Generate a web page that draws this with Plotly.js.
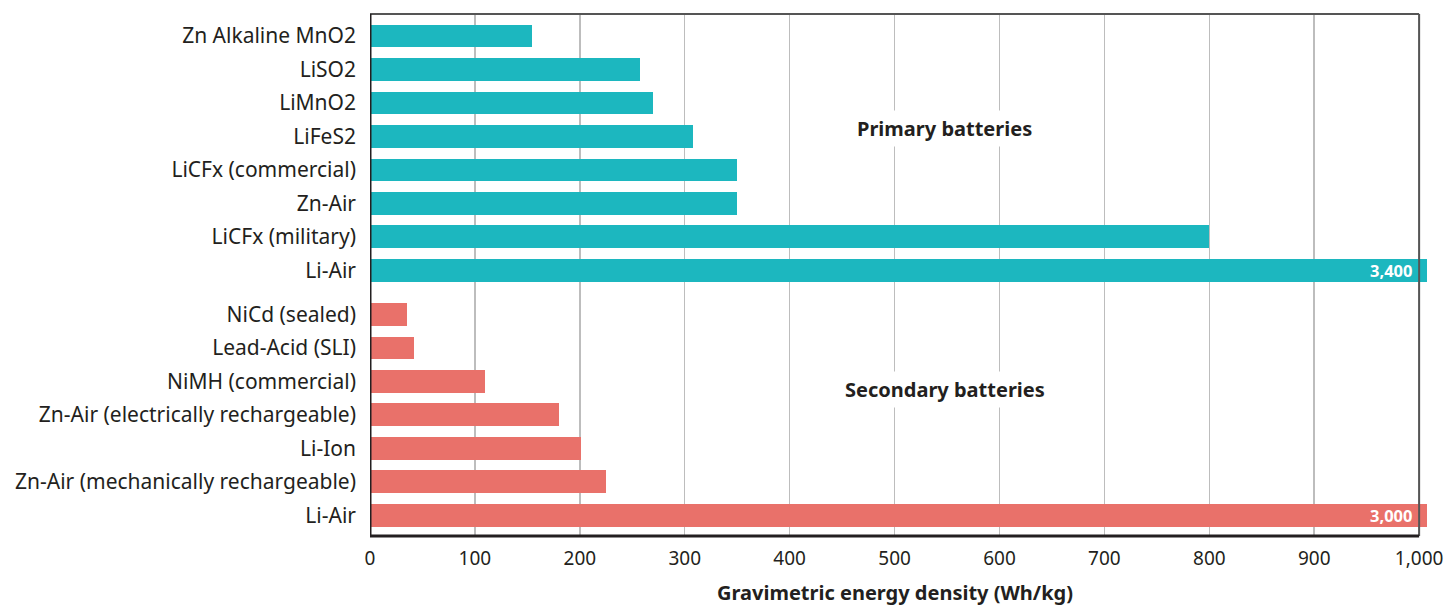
<!DOCTYPE html>
<html>
<head>
<meta charset="utf-8">
<script src="https://cdn.plot.ly/plotly-3.0.1.min.js"></script>
<style>html,body{margin:0;padding:0;background:#fff;}#chart{width:1444px;height:607px;}</style>
</head>
<body>
<div id="chart"></div>
<script>
// ---- data ----
const primaryLabels = ["Zn Alkaline MnO2", "LiSO2", "LiMnO2", "LiFeS2", "LiCFx (commercial)", "Zn-Air", "LiCFx (military)", "Li-Air"];
const primaryValues = [154, 257, 270, 308, 350, 350, 800, 3400];
const secondaryLabels = ["NiCd (sealed)", "Lead-Acid (SLI)", "NiMH (commercial)", "Zn-Air (electrically rechargeable)", "Li-Ion", "Zn-Air (mechanically rechargeable)", "Li-Air"];
const secondaryValues = [35, 42, 110, 180, 201, 225, 3000];
const xTickVals = [0, 100, 200, 300, 400, 500, 600, 700, 800, 900, 1000];
const xTickText = ["0", "100", "200", "300", "400", "500", "600", "700", "800", "900", "1,000"];
const groupTitles = ["Primary batteries", "Secondary batteries"];
const xTitle = "Gravimetric energy density (Wh/kg)";

// ---- layout helpers ----
const FONT = "Noto Sans, Open Sans, sans-serif";
const TXT = "#231f20";
const TEAL = "#1cb7bf";
const SALMON = "#e9716a";
const XMAX = 1000;
const gap = 1.32;
const pPos = primaryLabels.map((_, i) => i);
const sPos = secondaryLabels.map((_, i) => primaryLabels.length - 1 + gap + i);
const yMin = -0.66, yMax = sPos[sPos.length - 1] + 0.62;

const fmt = v => v.toLocaleString("en-US");

const traces = [
  {type: "bar", orientation: "h", y: pPos, x: primaryValues, width: 0.68,
   marker: {color: TEAL}, hoverinfo: "skip", showlegend: false},
  {type: "bar", orientation: "h", y: sPos, x: secondaryValues, width: 0.68,
   marker: {color: SALMON}, hoverinfo: "skip", showlegend: false}
];

const annotations = [];
// values beyond the axis range
[[primaryValues, pPos], [secondaryValues, sPos]].forEach(([vals, pos]) => {
  vals.forEach((v, i) => {
    if (v > XMAX) {
      annotations.push({x: XMAX, y: pos[i], xref: "x", yref: "y", xanchor: "right", yanchor: "middle",
        xshift: -5, text: "<b>" + fmt(v) + "</b>", showarrow: false,
        font: {family: FONT, size: 16.5, color: "#ffffff"}});
    }
  });
});
annotations.push({x: 548, y: 2.75, xref: "x", yref: "y", text: "<b>" + groupTitles[0] + "</b>", showarrow: false,
  bgcolor: "#ffffff", borderpad: 4, font: {family: FONT, size: 20, color: TXT}});
annotations.push({x: 548, y: 10.55, xref: "x", yref: "y", text: "<b>" + groupTitles[1] + "</b>", showarrow: false,
  bgcolor: "#ffffff", borderpad: 4, font: {family: FONT, size: 20, color: TXT}});
annotations.push({x: 500, y: 0, xref: "x", yref: "paper", yanchor: "top", yshift: -41,
  text: "<b>" + xTitle + "</b>", showarrow: false, font: {family: FONT, size: 20, color: TXT}});

const shapes = [
  // top border
  {type: "line", xref: "x", yref: "paper", x0: 0, x1: XMAX, y0: 1, y1: 1, line: {color: "#555555", width: 2}},
  // right border
  {type: "line", xref: "x", yref: "paper", x0: XMAX, x1: XMAX, y0: 0, y1: 1, line: {color: "#555555", width: 2}},
  // left axis
  {type: "line", xref: "x", yref: "paper", x0: 0, x1: 0, y0: 0, y1: 1, line: {color: TXT, width: 3}},
  // bottom axis
  {type: "line", xref: "x", yref: "paper", x0: 0, x1: XMAX, y0: 0, y1: 0, line: {color: TXT, width: 3}}
];

const layout = {
  width: 1444, height: 607,
  margin: {l: 370, r: 17, t: 14, b: 71},
  paper_bgcolor: "#ffffff", plot_bgcolor: "#ffffff",
  font: {family: FONT, color: TXT},
  bargap: 0,
  xaxis: {range: [0, 1007.5], tickvals: xTickVals, ticktext: xTickText, showgrid: true,
    gridcolor: "#bdbdbd", gridwidth: 1.5, zeroline: false, showline: false, ticks: "",
    ticklabeloverflow: "allow", automargin: false,
    ticklabelstandoff: 9, tickfont: {family: FONT, size: 19, color: TXT}, fixedrange: true},
  yaxis: {range: [yMax, yMin], tickvals: pPos.concat(sPos), ticktext: primaryLabels.concat(secondaryLabels),
    showgrid: false, zeroline: false, showline: false, ticks: "", ticklabelstandoff: 13,
    tickfont: {family: FONT, size: 21, color: TXT}, fixedrange: true},
  annotations: annotations,
  shapes: shapes
};

Plotly.newPlot("chart", traces, layout, {displayModeBar: false, staticPlot: true});
</script>
</body>
</html>
